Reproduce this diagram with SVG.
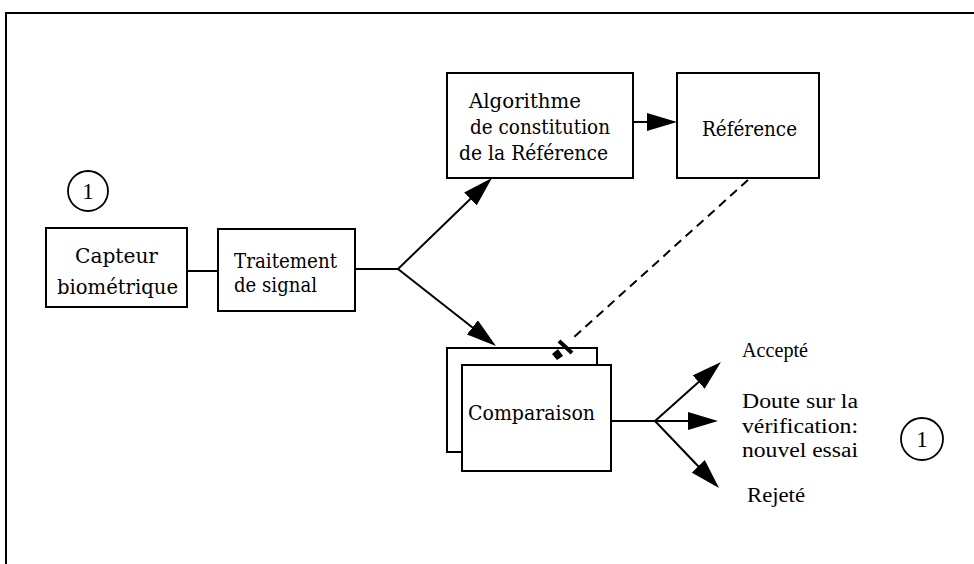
<svg xmlns="http://www.w3.org/2000/svg" width="974" height="564" viewBox="0 0 974 564">
  <style>
    .box { fill: #fff; stroke: #000; stroke-width: 2; }
    .ring { fill: #fff; stroke: #000; stroke-width: 1.8; }
    .line { fill: none; stroke: #000; stroke-width: 2; }
    .dash { fill: none; stroke: #000; stroke-width: 2; stroke-dasharray: 9 6; }
    .lbl { font-family: "DejaVu Serif", "Liberation Serif", serif; font-size: 20px; fill: #000; }
    .out { font-family: "Liberation Serif", "Times New Roman", serif; font-size: 20px; fill: #000; }
    .num { font-family: "Liberation Serif", "Times New Roman", serif; font-size: 23px; fill: #000; }
  </style>
  <defs>
    <marker id="head" viewBox="0 0 30 18" markerWidth="30" markerHeight="18" refX="20" refY="9" orient="auto" markerUnits="userSpaceOnUse">
      <path d="M0,0 L30,9 L0,18 Z" fill="#000"/>
    </marker>
  </defs>

  <rect width="974" height="564" fill="#fff"/>

  <!-- page frame (top and left edges) -->
  <g id="frame">
    <path class="line" d="M5,13 H974 M6,12 V564"/>
  </g>

  <g id="start-marker">
    <circle class="ring" cx="88" cy="191" r="20"/>
    <text class="num" x="88" y="199" text-anchor="middle">1</text>
  </g>

  <g id="capteur">
    <rect class="box" x="46" y="228" width="141" height="79"/>
    <text class="lbl" x="75" y="263" textLength="83" lengthAdjust="spacingAndGlyphs">Capteur</text>
    <text class="lbl" x="57" y="294" textLength="121" lengthAdjust="spacingAndGlyphs">biométrique</text>
  </g>

  <g id="traitement">
    <rect class="box" x="218" y="229" width="137" height="82"/>
    <text class="lbl" x="234" y="268" textLength="103" lengthAdjust="spacingAndGlyphs">Traitement</text>
    <text class="lbl" x="234" y="292" textLength="83" lengthAdjust="spacingAndGlyphs">de signal</text>
  </g>

  <g id="algorithme">
    <rect class="box" x="447" y="73" width="186" height="105"/>
    <text class="lbl" x="469" y="108" textLength="112" lengthAdjust="spacingAndGlyphs">Algorithme</text>
    <text class="lbl" x="470" y="134" textLength="140" lengthAdjust="spacingAndGlyphs">de constitution</text>
    <text class="lbl" x="459" y="160" textLength="149" lengthAdjust="spacingAndGlyphs">de la Référence</text>
  </g>

  <g id="reference">
    <rect class="box" x="677" y="73" width="142" height="105"/>
    <text class="lbl" x="702" y="136" textLength="95" lengthAdjust="spacingAndGlyphs">Référence</text>
  </g>

  <g id="comparaison">
    <rect class="box" x="447" y="348" width="150" height="104"/>
    <rect class="box" x="462" y="365" width="149" height="106"/>
    <text class="lbl" x="468" y="420" textLength="127" lengthAdjust="spacingAndGlyphs">Comparaison</text>
  </g>

  <g id="accepte">
    <text class="out" x="742" y="357" textLength="66" lengthAdjust="spacingAndGlyphs">Accepté</text>
  </g>

  <g id="doute">
    <text class="out" x="742" y="408" textLength="116" lengthAdjust="spacingAndGlyphs">Doute sur la</text>
    <text class="out" x="742" y="433" textLength="116" lengthAdjust="spacingAndGlyphs">vérification:</text>
    <text class="out" x="742" y="457" textLength="116" lengthAdjust="spacingAndGlyphs">nouvel essai</text>
  </g>

  <g id="retry-marker">
    <circle class="ring" cx="922" cy="439" r="21"/>
    <text class="num" x="922" y="447" text-anchor="middle">1</text>
  </g>

  <g id="rejete">
    <text class="out" x="747" y="502" textLength="58" lengthAdjust="spacingAndGlyphs">Rejeté</text>
  </g>

  <!-- connectors, drawn over the boxes -->
  <g id="connectors">
    <path class="line" d="M187,271 H218"/>
    <path class="line" d="M355,269 H398"/>
    <path class="line" d="M398,269 L484.8,185" marker-end="url(#head)"/>
    <path class="line" d="M398,269 L488.1,339.8" marker-end="url(#head)"/>
    <path class="line" d="M633,122 L667,122" marker-end="url(#head)"/>
    <path class="dash" d="M748,180 L573,338"/>
    <path d="M559,341 L572,353" stroke="#000" stroke-width="4"/>
    <polygon points="552,354 558,349 563,356 557,360" fill="#000"/>
    <path class="line" d="M611,421 H655"/>
    <path class="line" d="M655,421 L713.5,368.7" marker-end="url(#head)"/>
    <path class="line" d="M655,421 L708,421" marker-end="url(#head)"/>
    <path class="line" d="M655,421 L712.1,480.8" marker-end="url(#head)"/>
  </g>
</svg>
